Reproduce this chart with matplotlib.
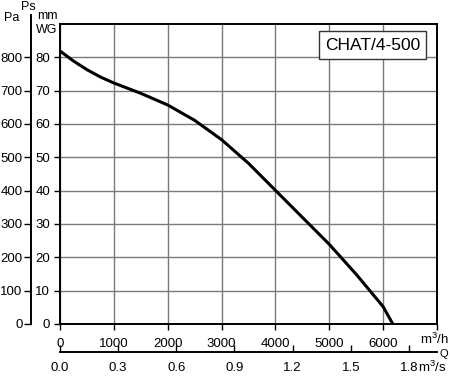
import matplotlib.pyplot as plt

plt.rcParams['font.family'] = ['Liberation Sans', 'DejaVu Sans']
plt.rcParams['mathtext.fontset'] = 'custom'
plt.rcParams['mathtext.rm'] = 'Liberation Sans'
plt.rcParams['mathtext.it'] = 'Liberation Sans'

# fan curve CHAT/4-500, static pressure vs flow
flow_m3h = [0, 250, 500, 750, 1000, 1500, 2000, 2500, 3000, 3500, 4000, 4500, 5000, 5500, 6000, 6180]
ps_mmwg = [81.9, 78.9, 76.3, 74.1, 72.3, 69.2, 65.7, 61.1, 55.3, 48.2, 40.1, 32.0, 23.9, 14.9, 5.2, 0.0]

x_ticks = [0, 1000, 2000, 3000, 4000, 5000, 6000, 7000]
x_labels = ["0", "1000", "2000", "3000", "4000", "5000", "6000", ""]
mm_ticks = list(range(0, 81, 10))
pa_ticks = list(range(0, 801, 100))
q_ticks = [0.0, 0.3, 0.6, 0.9, 1.2, 1.5, 1.8]
model = "CHAT/4-500"

W, H = 450, 378
fig = plt.figure(figsize=(W / 100, H / 100), dpi=100)
fig.patch.set_facecolor("white")

x0, x1, y0, y1 = 60, 437, 24, 324
ax = fig.add_axes([x0 / W, 1 - y1 / H, (x1 - x0) / W, (y1 - y0) / H])
ax.set_xlim(0, 7000)
ax.set_ylim(0, 90)
ax.set_xticks(x_ticks)
ax.set_xticklabels(x_labels)
ax.set_yticks(mm_ticks)
ax.tick_params(axis="both", labelsize=9.5, length=4, width=1, pad=3, color="black")
ax.tick_params(axis="x", pad=6)
ax.grid(True, color="#7a7a7a", lw=1)
ax.set_axisbelow(True)
for s in ax.spines.values():
    s.set_linewidth(1.4)
ax.plot(flow_m3h, ps_mmwg, color="black", lw=2.2, solid_joinstyle="round", zorder=3)

ax.text(0.956, 0.93, model, transform=ax.transAxes, ha="right", va="center", fontsize=12.5,
        bbox=dict(boxstyle="square,pad=0.35", fc="white", ec="#333333", lw=1))

# Pa scale on the far left
pa_top = 15
axp = fig.add_axes([31 / W, 1 - y1 / H, 0.001, (y1 - pa_top) / H])
axp.set_ylim(0, 900 * (y1 - pa_top) / (y1 - y0))
axp.set_yticks(pa_ticks)
axp.set_xticks([])
axp.patch.set_visible(False)
for k in ["top", "right", "bottom"]:
    axp.spines[k].set_visible(False)
axp.spines["left"].set_linewidth(1.4)
axp.tick_params(axis="y", labelsize=9.5, length=5, width=1, pad=1)

# m3/s scale below
qy = 352
axq = fig.add_axes([x0 / W, 1 - qy / H, (x1 - x0) / W, 0.001])
axq.set_xlim(0, 7000 / 3600)
axq.set_xticks(q_ticks)
axq.set_xticklabels(["%.1f" % v for v in q_ticks])
axq.set_yticks([])
axq.patch.set_visible(False)
for k in ["top", "right", "left"]:
    axq.spines[k].set_visible(False)
axq.spines["bottom"].set_linewidth(1.4)
axq.tick_params(axis="x", direction="in", labelsize=9.5, length=5, width=1, pad=7)

fig.text(449 / W, 1 - 347 / H, "m$^3$/h", fontsize=9.5, ha="right", va="bottom")
fig.text(418 / W, 1 - 360 / H, "m$^3$/s", fontsize=9.5, ha="left", va="top")
fig.text(444 / W, 1 - 354 / H, "Q", fontsize=8, ha="center", va="center")
fig.text(12 / W, 1 - 18 / H, "Pa", fontsize=9, ha="center", va="center")
fig.text(28 / W, 1 - 7 / H, "Ps", fontsize=9, ha="center", va="center")
fig.text(47 / W, 1 - 16 / H, "mm", fontsize=9, ha="center", va="center")
fig.text(47 / W, 1 - 30 / H, "WG", fontsize=9, ha="center", va="center")

fig.savefig("out.png", dpi=100, facecolor="white")
